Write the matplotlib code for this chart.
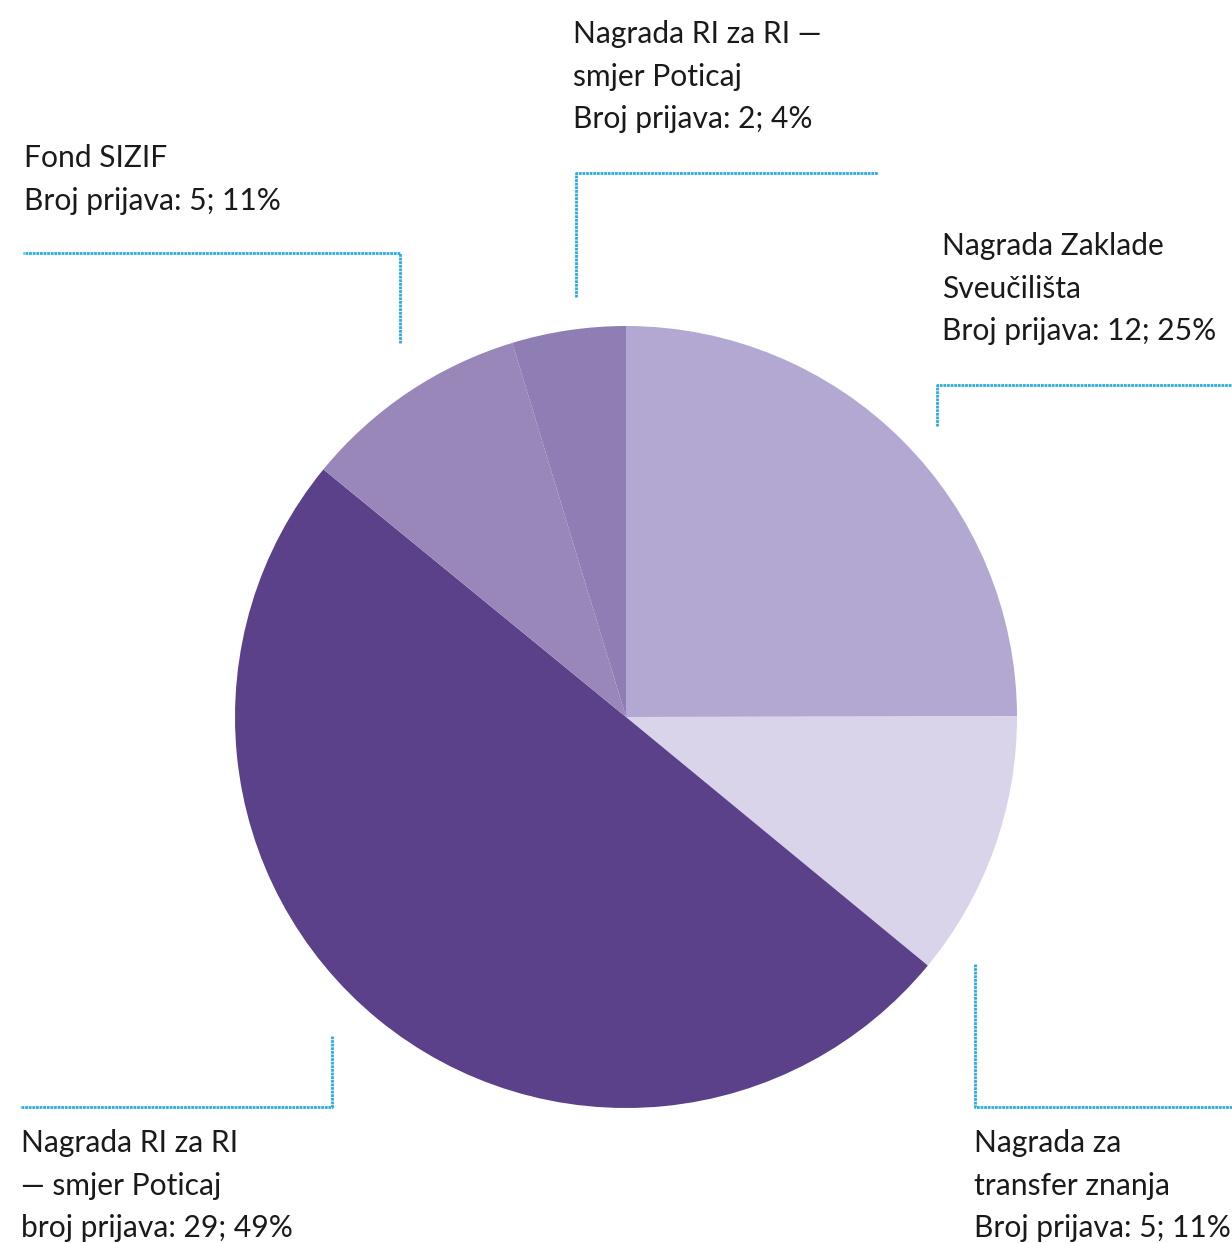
import matplotlib
matplotlib.use('Agg')
import matplotlib.pyplot as plt

# slice shares as drawn (clockwise from 12 o'clock)
labels = ['Nagrada Zaklade Sveučilišta', 'Nagrada za transfer znanja',
          'Nagrada RI za RI — smjer Poticaj (broj)', 'Fond SIZIF',
          'Nagrada RI za RI — smjer Poticaj']
shares = [25, 11, 50, 9.4, 4.7]
colors = ['#B3A8D1', '#D9D4EA', '#5A418A', '#9A87B9', '#8E7EB4']

label_texts = [
    ['Nagrada Zaklade', 'Sveučilišta', 'Broj prijava: 12; 25%'],
    ['Nagrada za', 'transfer znanja', 'Broj prijava: 5; 11%'],
    ['Nagrada RI za RI', '— smjer Poticaj', 'broj prijava: 29; 49%'],
    ['Fond SIZIF', 'Broj prijava: 5; 11%'],
    ['Nagrada RI za RI —', 'smjer Poticaj', 'Broj prijava: 2; 4%'],
]

W, H = 1232, 1243
fig = plt.figure(figsize=(W / 100, H / 100), dpi=100)
ax = fig.add_axes([0, 0, 1, 1])

def Y(y):
    return H - y

wedges, _ = ax.pie(shares, colors=colors, startangle=90, counterclock=False,
                   center=(626, Y(717)), radius=391, frame=True,
                   wedgeprops=dict(linewidth=0))
ax.set_xlim(0, W)
ax.set_ylim(0, H)
ax.axis('off')

# leader lines (pixel coords of the reference)
line_col = '#29ABE2'
leaders = [
    [(937, 426), (937, 385), (1232, 385)],
    [(975, 964), (975, 1107), (1232, 1107)],
    [(332, 1036), (332, 1107), (20, 1107)],
    [(400, 343), (400, 253), (23, 253)],
    [(576, 297), (576, 173), (878, 173)],
]
for pts in leaders:
    xs = [p[0] for p in pts]
    ys = [Y(p[1]) for p in pts]
    ax.plot(xs, ys, color=line_col, lw=2.0, ls=(0, (1.0, 0.3)),
            solid_joinstyle='miter')

# text blocks: left x, first baseline
text_pos = [(942, 255), (974, 1152), (21, 1152), (24, 167), (573, 43)]
fs = 30 * 72 / 100
for (x, y0), lines in zip(text_pos, label_texts):
    for i, t in enumerate(lines):
        ax.text(x, Y(y0 + i * 42.5), t, fontsize=fs, family='Lato',
                color='#1a1a1a', ha='left', va='baseline')

fig.savefig('out.png', dpi=100)
